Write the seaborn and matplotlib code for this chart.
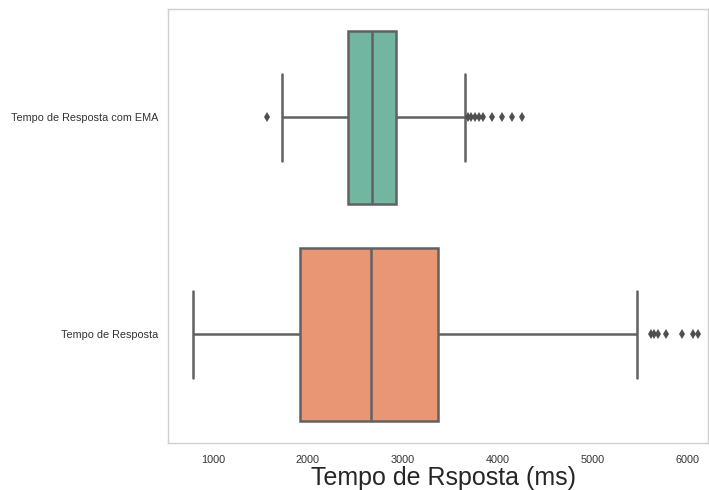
import numpy as np
import pandas as pd
import matplotlib
matplotlib.use("Agg")
import matplotlib.pyplot as plt
import seaborn as sns

# Category labels (top to bottom)
categories = ["Tempo de Resposta com EMA", "Tempo de Resposta"]

# Response-time samples (ms) for each series
ema_times = ([1568, 1726] + [2421] * 9 + [2674] * 10 + [2926] * 10 + [3653]
             + [3690, 3720, 3760, 3800, 3842, 3937, 4042, 4147, 4253])
raw_times = ([789] + [1916] * 8 + [2663] * 8 + [3368] * 8 + [5463]
             + [5610, 5650, 5690, 5770, 5937, 6053, 6105])

x_ticks = [1000, 2000, 3000, 4000, 5000, 6000]

df = pd.DataFrame({
    "categoria": [categories[0]] * len(ema_times) + [categories[1]] * len(raw_times),
    "tempo": ema_times + raw_times,
})

sns.set_style("whitegrid")
plt.rcParams["font.family"] = ["Liberation Sans", "DejaVu Sans"]

fig, ax = plt.subplots(figsize=(7.09, 4.90), dpi=100)
fig.subplots_adjust(left=0.237, right=0.998, top=0.982, bottom=0.096)

line_gray = "#616161"
sns.boxplot(
    data=df, x="tempo", y="categoria", hue="categoria", order=categories,
    palette="Set2", legend=False, ax=ax, linewidth=1.8, linecolor=line_gray,
    fliersize=4.8,
    flierprops=dict(marker="d", markerfacecolor="#505050",
                    markeredgecolor="#505050", markeredgewidth=0),
)

ax.grid(False)
ax.set_xlim(526, 6210)
ax.set_xticks(x_ticks)
ax.tick_params(axis="x", labelsize=7.8, pad=9, length=0, labelcolor="#333333")
ax.tick_params(axis="y", labelsize=7.8, pad=7, length=0, labelcolor="#333333")
ax.set_ylabel("")
ax.set_xlabel("Tempo de Rsposta (ms)", fontsize=18, labelpad=0, color="#262626")
ax.xaxis.set_label_coords(0.511, -0.052)
ax.xaxis.label.set_va("top")
for s in ax.spines.values():
    s.set_color("#d0d0d0")
    s.set_linewidth(1.0)

fig.savefig("out.png", dpi=100)
